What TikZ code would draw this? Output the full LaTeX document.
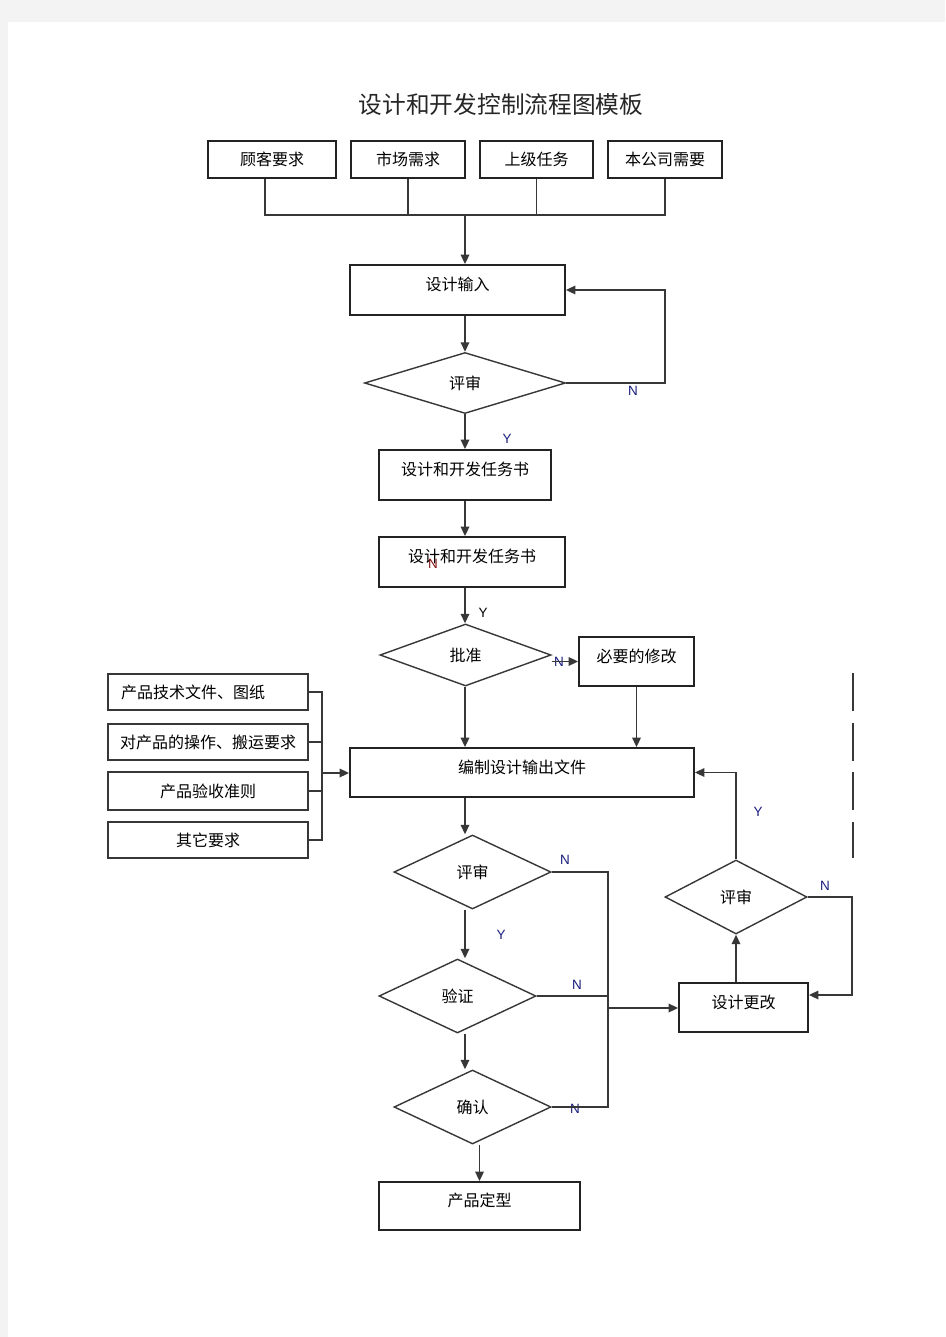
\documentclass[tikz,border=0pt]{standalone}
\usepackage{fontspec}
\setmainfont{Noto Sans CJK SC}
\newfontfamily\ynfont{Liberation Sans}
\usepackage{tikz}
\usetikzlibrary{positioning,shapes.geometric,arrows.meta}
\definecolor{pagebg}{RGB}{243,243,243}
\definecolor{edgec}{RGB}{35,35,35}
\definecolor{linec}{RGB}{55,55,55}
\definecolor{ynblue}{RGB}{25,30,125}
\definecolor{ynred}{RGB}{135,20,20}
\tikzset{
	box/.style={rectangle, draw=edgec, line width=1.8pt, inner sep=0pt, font=\fontsize{16}{18}\selectfont},
	tallbox/.style={box, text height=13.5pt, text depth=12pt},
	sidebox/.style={box, draw=linec, line width=1.3pt},
	dia/.style={diamond, draw=linec, line width=1.4pt, inner sep=0pt, font=\fontsize{16}{18}\selectfont},
	ln/.style={draw=linec, line width=1.7pt},
	arr/.style={ln, -{Triangle[length=9.5pt,width=8.5pt]}},
	yn/.style={font=\ynfont\fontsize{13.5}{15}\selectfont, text=ynblue, inner sep=0pt},
}
\begin{document}
\begin{tikzpicture}[x=1pt,y=-1pt]
			\useasboundingbox (0,0) rectangle (945,1337);
			\fill[pagebg] (0,0) rectangle (945,1337);
			\fill[white] (8,22) rectangle (945,1337);
			\node[font=\fontsize{23.7}{26}\selectfont, text=black!85] (ttl) at (501,104) {设计和开发控制流程图模板};
			\node[box, minimum width=128, minimum height=37] (gk) at (272,159.5) {顾客要求};
			\node[box, minimum width=114, minimum height=37] (sc) at (408,159.5) {市场需求};
			\node[box, minimum width=113, minimum height=37] (sj) at (536.5,159.5) {上级任务};
			\node[box, minimum width=114, minimum height=37] (bg) at (665,159.5) {本公司需要};
			\coordinate (hb) at (465,215);
			\coordinate (ax) at (465,0);
			\node[tallbox, minimum width=215, minimum height=50] (sr) at (457.5,290) {设计输入};
			\node[dia, minimum width=201, minimum height=61] (ps1) at (465,383) {评审};
			\node[tallbox, minimum width=172, minimum height=50] (rw1) at (465,475) {设计和开发任务书};
			\node[tallbox, minimum width=186, minimum height=50] (rw2) at (472,562) {设计和开发任务书};
			\node[dia, minimum width=171, minimum height=62] (pz) at (465.5,655) {批准};
			\node[tallbox, minimum width=115, minimum height=49] (xg) at (636.5,661.5) {必要的修改};
			\node[tallbox, minimum width=344, minimum height=49] (bz) at (522,772.5) {编制设计输出文件};
			\node[sidebox, minimum width=200, minimum height=36, text width=174pt, align=left] (lb1) at (208,692) {产品技术文件、图纸};
			\node[sidebox, minimum width=200, minimum height=36] (lb2) at (208,742) {对产品的操作、搬运要求};
			\node[sidebox, minimum width=200, minimum height=38] (lb3) at (208,791) {产品验收准则};
			\node[sidebox, minimum width=200, minimum height=36] (lb4) at (208,840) {其它要求};
			\coordinate (kx) at (322,773);
			\node[dia, minimum width=157, minimum height=74] (ps2) at (472.5,872) {评审};
			\node[dia, minimum width=157, minimum height=74] (yz) at (457.5,996) {验证};
			\node[dia, minimum width=157, minimum height=74] (qr) at (472.5,1107) {确认};
			\node[tallbox, minimum width=201, minimum height=48] (dx) at (479.5,1206) {产品定型};
			\coordinate (bus) at (608,1008);
			\node[tallbox, minimum width=129, minimum height=49] (gg) at (743.5,1007.5) {设计更改};
			\node[dia, minimum width=142, minimum height=74] (ps3) at (736,897) {评审};
			\node[yn] (n1) at (633,391) {N};
			\node[yn] (y1) at (507,439) {Y};
			\node[yn, text=ynred] (n2) at (433,564) {N};
			\node[yn, text=black] (y2) at (483,613) {Y};
			\node[yn] (n3) at (559,662) {N};
			\node[yn] (y3) at (758,812) {Y};
			\node[yn] (n4) at (565,860) {N};
			\node[yn] (y4) at (501,935) {Y};
			\node[yn] (n5) at (577,985) {N};
			\node[yn] (n6) at (575,1109) {N};
			\node[yn] (n7) at (825,886) {N};
			\draw[ln] ([xshift=-7pt]gk.south) |- (hb) -| (bg.south);
			\draw[ln] (sc.south) -- (sc.south |- hb);
			\draw[ln] (sj.south) -- (sj.south |- hb);
			\draw[arr] (hb) -- (hb |- sr.north);
			\draw[arr] (ps1.north |- sr.south) -- (ps1.north);
			\draw[arr] (ps1.east) -- ++(99,0) |- (sr.east);
			\draw[arr] (ps1.south) -- (rw1.north);
			\draw[arr] (rw1.south) -- (rw1.south |- rw2.north);
			\draw[arr] (rw2.south -| ax) -- (pz.north -| ax);
			\draw[arr] (xg.west -| pz.east) -- (xg.west);
			\draw[arr] (xg.south) -- (xg.south |- bz.north);
			\draw[arr] (pz.south -| ax) -- (bz.north -| ax);
			\draw[ln] (lb1.east) -| (lb4.east -| kx) -- (lb4.east);
			\draw[ln] (lb2.east) -- (lb2.east -| kx);
			\draw[ln] (lb3.east) -- (lb3.east -| kx);
			\draw[arr] (kx) -- (kx -| bz.west);
			\draw[arr] (bz.south -| ax) -- (ps2.north -| ax);
			\draw[arr] (ps2.south -| ax) -- (yz.north -| ax);
			\draw[arr] (yz.south -| ax) -- (qr.north -| ax);
			\draw[arr] (qr.south -| dx.north) -- (dx.north);
			\draw[ln, line width=2pt] (ps2.east) -| (qr.east -| bus) -- (qr.east);
			\draw[ln] (yz.east) -- (yz.east -| bus);
			\draw[arr] (bus) -- (bus -| gg.west);
			\draw[arr] (ps3.south |- gg.north) -- (ps3.south);
			\draw[arr] (ps3.east) -- ++(44,0) |- ([yshift=12.5pt]gg.east);
			\draw[arr] (ps3.north) |- (bz.east);
			\foreach \ya/\yb in {673/711,723/761,772/810,822/858}
				\draw[ln, line width=1.4pt] (853,\ya) -- (853,\yb);
\end{tikzpicture}
\end{document}
